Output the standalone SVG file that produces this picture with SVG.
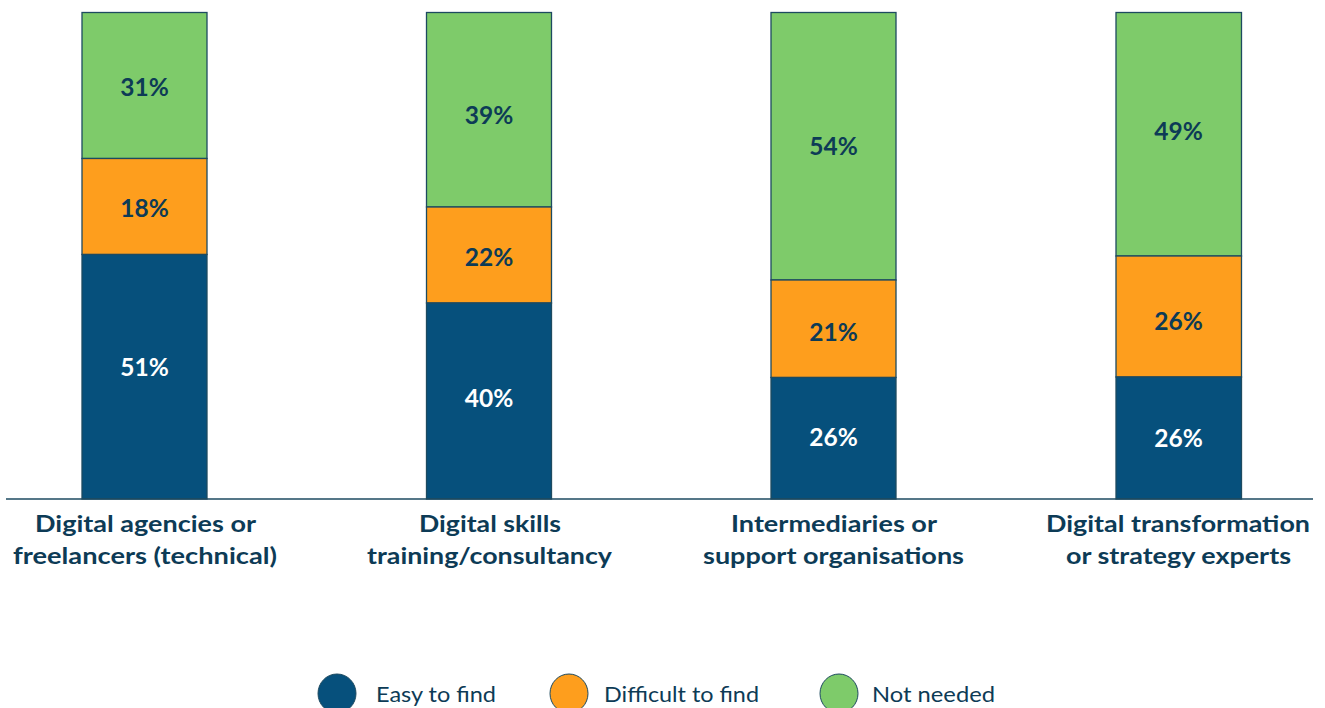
<svg xmlns="http://www.w3.org/2000/svg" width="1325" height="708" viewBox="0 0 1325 708">
<style>
.seg{stroke:#1d4a60;stroke-width:1.3}
.g{fill:#7ecb6a}.o{fill:#fe9e1d}.b{fill:#06507c}
.pct{font-family:Lato,"Liberation Sans",sans-serif;font-weight:700;font-size:24.5px;text-anchor:middle;fill:#0d3b56}
.w{fill:#ffffff}
.cat{font-family:Lato,"Liberation Sans",sans-serif;font-weight:700;font-size:22px;text-anchor:middle;fill:#0d3b56}
.leg{font-family:Lato,"Liberation Sans",sans-serif;font-size:21px;fill:#0d3b56}
</style>
<rect width="1325" height="708" fill="#ffffff"/>
<g id="bar1">
<rect class="seg g" x="82" y="12.5" width="125" height="146"/>
<rect class="seg o" x="82" y="158.5" width="125" height="96"/>
<rect class="seg b" x="82" y="254.5" width="125" height="244.5"/>
<text class="pct" x="144.5" y="96">31%</text>
<text class="pct" x="144.5" y="217">18%</text>
<text class="pct w" x="144.5" y="376">51%</text>
<text class="cat" x="145.5" y="531.5" textLength="221" lengthAdjust="spacingAndGlyphs">Digital agencies or</text>
<text class="cat" x="145" y="563.5" textLength="264" lengthAdjust="spacingAndGlyphs">freelancers (technical)</text>
</g>
<g id="bar2">
<rect class="seg g" x="426.5" y="12.5" width="125" height="194.5"/>
<rect class="seg o" x="426.5" y="207" width="125" height="96"/>
<rect class="seg b" x="426.5" y="303" width="125" height="196"/>
<text class="pct" x="489" y="124">39%</text>
<text class="pct" x="489" y="266">22%</text>
<text class="pct w" x="489" y="407">40%</text>
<text class="cat" x="490" y="531.5" textLength="142" lengthAdjust="spacingAndGlyphs">Digital skills</text>
<text class="cat" x="489.5" y="563.5" textLength="245" lengthAdjust="spacingAndGlyphs">training/consultancy</text>
</g>
<g id="bar3">
<rect class="seg g" x="771" y="12.5" width="125" height="267.5"/>
<rect class="seg o" x="771" y="280" width="125" height="97.5"/>
<rect class="seg b" x="771" y="377.5" width="125" height="121.5"/>
<text class="pct" x="833.5" y="155">54%</text>
<text class="pct" x="833.5" y="341">21%</text>
<text class="pct w" x="833.5" y="446">26%</text>
<text class="cat" x="834" y="531.5" textLength="206" lengthAdjust="spacingAndGlyphs">Intermediaries or</text>
<text class="cat" x="833.5" y="563.5" textLength="261" lengthAdjust="spacingAndGlyphs">support organisations</text>
</g>
<g id="bar4">
<rect class="seg g" x="1116" y="12.5" width="125.5" height="243.5"/>
<rect class="seg o" x="1116" y="256" width="125.5" height="121"/>
<rect class="seg b" x="1116" y="377" width="125.5" height="122"/>
<text class="pct" x="1178.5" y="140">49%</text>
<text class="pct" x="1178.5" y="330">26%</text>
<text class="pct w" x="1178.5" y="447">26%</text>
<text class="cat" x="1178" y="531.5" textLength="264" lengthAdjust="spacingAndGlyphs">Digital transformation</text>
<text class="cat" x="1178.5" y="563.5" textLength="225" lengthAdjust="spacingAndGlyphs">or strategy experts</text>
</g>
<g id="axis">
<line x1="6" y1="499" x2="1313" y2="499" stroke="#1d4a60" stroke-width="1.5"/>
</g>
<g id="legend">
<ellipse cx="337" cy="693.5" rx="19" ry="19.5" fill="#06507c" stroke="#1d4a60" stroke-width="1"/>
<text class="leg" x="376" y="701.5" textLength="120" lengthAdjust="spacingAndGlyphs">Easy to find</text>
<ellipse cx="569" cy="693.5" rx="19" ry="19.5" fill="#fe9e1d" stroke="#1d4a60" stroke-width="1"/>
<text class="leg" x="604" y="701.5" textLength="155" lengthAdjust="spacingAndGlyphs">Difficult to find</text>
<ellipse cx="839" cy="693.5" rx="19" ry="19.5" fill="#7ecb6a" stroke="#1d4a60" stroke-width="1"/>
<text class="leg" x="872" y="701.5" textLength="123" lengthAdjust="spacingAndGlyphs">Not needed</text>
</g>
</svg>
